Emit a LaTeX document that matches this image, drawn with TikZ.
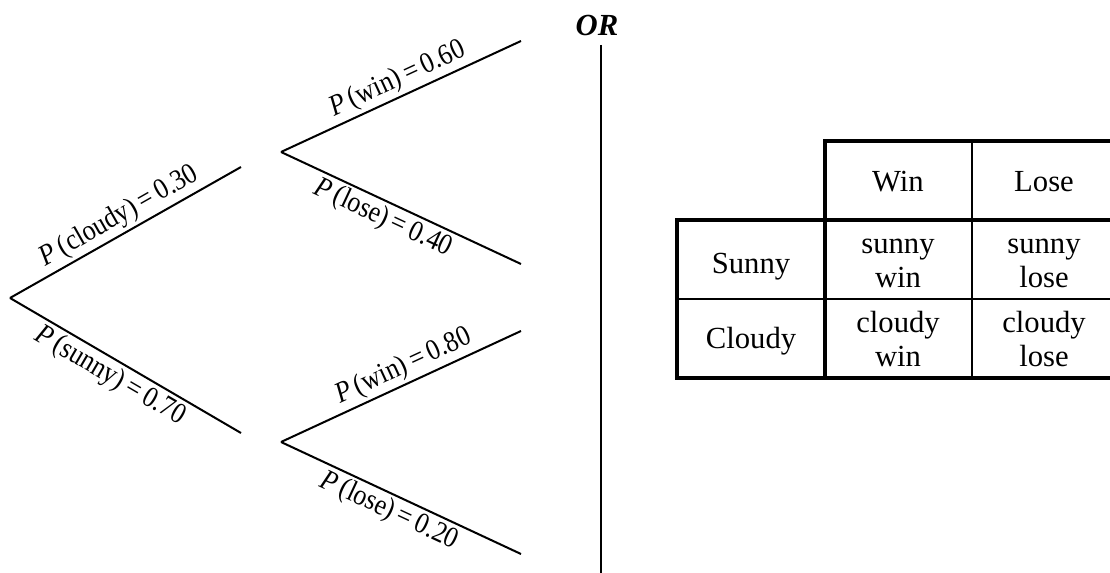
\documentclass[tikz,border=0pt]{standalone}
\usepackage{fontspec}
\setmainfont{Liberation Serif}
\newfontfamily\probfont[FakeStretch=0.88]{Liberation Serif}

\tikzset{every picture/.style={line width=0.75pt}}
\tikzset{
  branch/.style={line width=1.5pt},
  prob/.style={font=\probfont\fontsize{22}{24}\selectfont, rotate=#1, inner sep=2pt},
  cell/.style={font=\fontsize{23}{26}\selectfont, align=center, inner sep=0pt},
  thickrule/.style={line width=2.6pt, line cap=rect},
  thinrule/.style={line width=1.5pt}
}

\begin{document}
\begin{tikzpicture}[x=0.75pt,y=0.75pt,yscale=-1,xscale=1]
\useasboundingbox (0,0) rectangle (1110,573);

%Shape: Tree points
\coordinate (root) at (10,298);
\coordinate (cloudy) at (241,167);
\coordinate (sunny) at (241,433);
\coordinate (forkc) at (281,152);
\coordinate (cwin) at (521,41);
\coordinate (close) at (521,264);
\coordinate (forks) at (281,442);
\coordinate (swin) at (521,331);
\coordinate (slose) at (521,554);

%Straight Lines: first level
\draw [branch] (root) -- node [prob=29.6, above, pos=0.51] (pcloudy) {\textit{P}\,(cloudy)\,=\,0.30} (cloudy) ;
\draw [branch] (root) -- node [prob=-30.3, below, pos=0.47] (psunny) {\textit{P}\,(sunny)\,=\,0.70} (sunny) ;
%Straight Lines: second level
\draw [branch] (forkc) -- node [prob=24.8, above, pos=0.515] (pcwin) {\textit{P}\,(win)\,=\,0.60} (cwin) ;
\draw [branch] (forkc) -- node [prob=-25, below, pos=0.455] (pclose) {\textit{P}\,(lose)\,=\,0.40} (close) ;
\draw [branch] (forks) -- node [prob=24.8, above, pos=0.54] (pswin) {\textit{P}\,(win)\,=\,0.80} (swin) ;
\draw [branch] (forks) -- node [prob=-25, below, pos=0.48] (pslose) {\textit{P}\,(lose)\,=\,0.20} (slose) ;

% Text Node
\node [cell, font=\fontsize{23}{24}\selectfont\bfseries\itshape] (or) at (597,26) {OR};
\coordinate (ortop) at (601,45);
\coordinate (orbot) at (601,573);
%Straight Lines: divider
\draw [branch] (ortop) -- (orbot) ;

%Shape: Table
\draw [thickrule] (677,220) rectangle (1116,378) ;
\draw [thickrule] (825,220) -- (825,141) -- (1116,141) -- (1116,220) ;
\draw [thickrule] (825,220) -- (825,378) ;
\draw [thinrule] (972,141) -- (972,378) ;
\draw [thinrule] (677,299) -- (1116,299) ;

% Text Node
\node [cell] (hwin) at (898,181.5) {Win};
\node [cell] (hlose) at (1044,181.5) {Lose};
\node [cell] (rsunny) at (751,267) {Sunny};
\node [cell] (rcloudy) at (751,341.5) {Cloudy};
\node [cell] (sw) at (898,263.5) {sunny\\win};
\node [cell] (sl) at (1044,263.5) {sunny\\lose};
\node [cell] (cw) at (898,339) {cloudy\\win};
\node [cell] (cl) at (1044,339) {cloudy\\lose};

\end{tikzpicture}
\end{document}
